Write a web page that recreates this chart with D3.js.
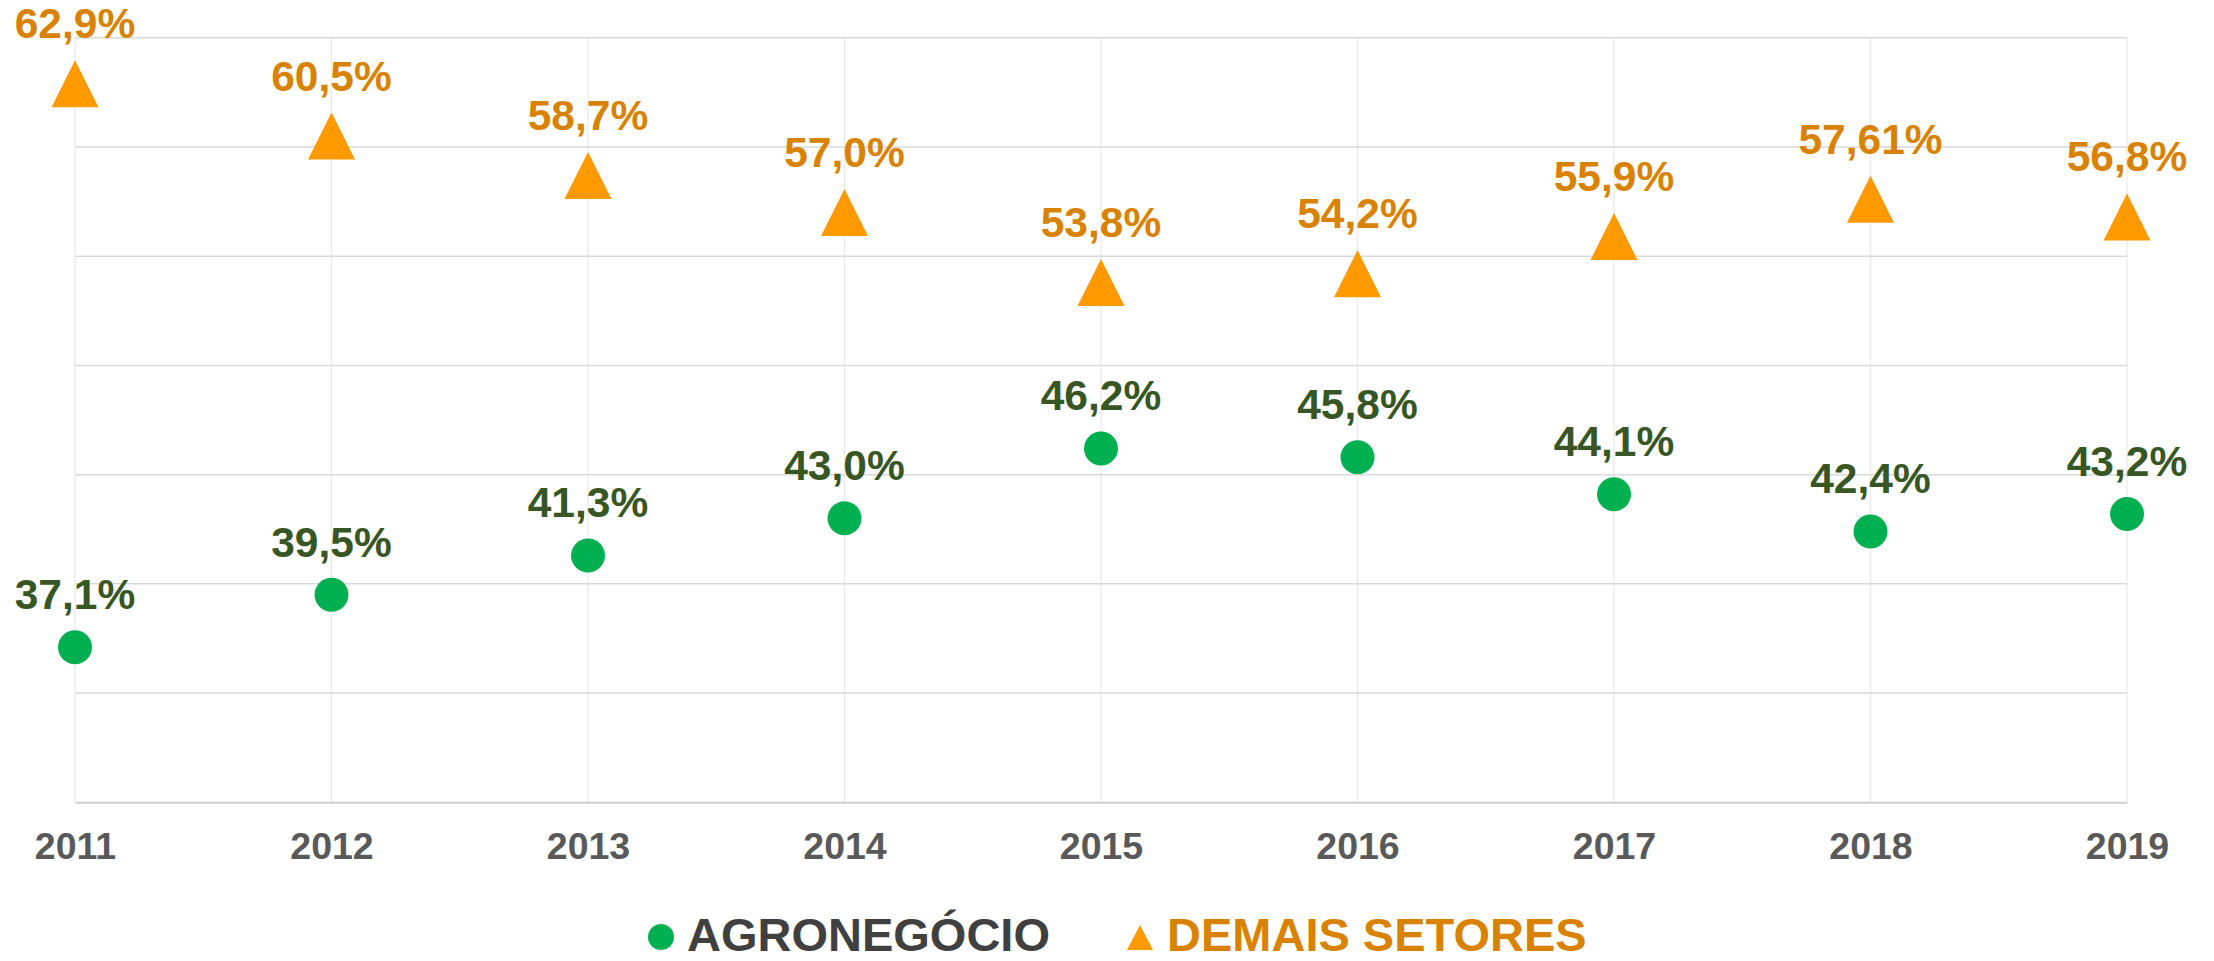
<!DOCTYPE html>
<html>
<head>
<meta charset="utf-8">
<script src="https://cdn.jsdelivr.net/npm/d3@7"></script>
<style>
  html, body { margin: 0; padding: 0; background: #fff; }
  svg text { font-family: "Liberation Sans", Arial, sans-serif; font-weight: bold; }
</style>
</head>
<body>
<div id="chart"></div>
<script>
// data
const years = ["2011", "2012", "2013", "2014", "2015", "2016", "2017", "2018", "2019"];
const agro = [37.1, 39.5, 41.3, 43.0, 46.2, 45.8, 44.1, 42.4, 43.2];
const agroLabels = ["37,1%", "39,5%", "41,3%", "43,0%", "46,2%", "45,8%", "44,1%", "42,4%", "43,2%"];
const demais = [62.9, 60.5, 58.7, 57.0, 53.8, 54.2, 55.9, 57.61, 56.8];
const demaisLabels = ["62,9%", "60,5%", "58,7%", "57,0%", "53,8%", "54,2%", "55,9%", "57,61%", "56,8%"];
const yTicks = [30, 35, 40, 45, 50, 55, 60, 65];
const seriesNames = ["AGRONEGÓCIO", "DEMAIS SETORES"];

const width = 2214, height = 961;

const svg = d3.select("#chart").append("svg")
    .attr("width", width)
    .attr("height", height);

const x = d3.scalePoint().domain(years).range([75, 2127]);
const y = d3.scaleLinear().domain([30, 65]).range([802.3, 37.8]);

// vertical gridlines
svg.append("g").selectAll("line")
    .data(years)
    .join("line")
    .attr("x1", d => x(d)).attr("x2", d => x(d))
    .attr("y1", y(65)).attr("y2", y(30))
    .attr("stroke", "#ececec")
    .attr("stroke-width", 1.5);

// horizontal gridlines
svg.append("g").selectAll("line")
    .data(yTicks.filter(t => t > 30))
    .join("line")
    .attr("x1", x(years[0])).attr("x2", x(years[years.length - 1]))
    .attr("y1", d => y(d)).attr("y2", d => y(d))
    .attr("stroke", "#d9d9d9")
    .attr("stroke-width", 1.5);

// x axis
const xAxis = svg.append("g")
    .attr("transform", "translate(0," + y(30) + ")")
    .call(d3.axisBottom(x).tickSize(0).tickPadding(0));
xAxis.select(".domain").attr("stroke", "#cfcfcf").attr("stroke-width", 2);
xAxis.selectAll("text")
    .attr("y", 57)
    .attr("dy", null)
    .attr("fill", "#595959")
    .style("font-size", "37.5px")
    .style("font-family", "'Liberation Sans', Arial, sans-serif")
    .style("font-weight", "bold");

function triPath(cx, cy, w, h) {
    return "M" + cx + "," + (cy - h / 2) + "L" + (cx + w / 2) + "," + (cy + h / 2) + "L" + (cx - w / 2) + "," + (cy + h / 2) + "Z";
}

// demais setores triangles
svg.append("g").selectAll("path")
    .data(years)
    .join("path")
    .attr("d", (d, i) => triPath(x(d), y(demais[i]), 47, 47))
    .attr("fill", "#ff9900");

svg.append("g").selectAll("text")
    .data(years)
    .join("text")
    .attr("x", d => x(d))
    .attr("y", (d, i) => y(demais[i]) - 45.5)
    .attr("text-anchor", "middle")
    .attr("fill", "#d98200")
    .style("font-size", "42.5px")
    .text((d, i) => demaisLabels[i]);

// agronegocio circles
svg.append("g").selectAll("circle")
    .data(years)
    .join("circle")
    .attr("cx", d => x(d))
    .attr("cy", (d, i) => y(agro[i]))
    .attr("r", 17)
    .attr("fill", "#00b050");

svg.append("g").selectAll("text")
    .data(years)
    .join("text")
    .attr("x", d => x(d))
    .attr("y", (d, i) => y(agro[i]) - 38)
    .attr("text-anchor", "middle")
    .attr("fill", "#375623")
    .style("font-size", "42.5px")
    .text((d, i) => agroLabels[i]);

// legend (nudged up a little so the text box stays inside the page)
const legend = svg.append("g");
legend.append("circle")
    .attr("cx", 661).attr("cy", 937).attr("r", 13)
    .attr("fill", "#00b050");
legend.append("text")
    .attr("x", 687).attr("y", 951)
    .attr("fill", "#404040")
    .style("font-size", "47px")
    .text(seriesNames[0]);
legend.append("path")
    .attr("d", triPath(1140, 937.5, 26, 25))
    .attr("fill", "#ff9900");
legend.append("text")
    .attr("x", 1167).attr("y", 951)
    .attr("fill", "#d98200")
    .style("font-size", "47px")
    .text(seriesNames[1]);
</script>
</body>
</html>
